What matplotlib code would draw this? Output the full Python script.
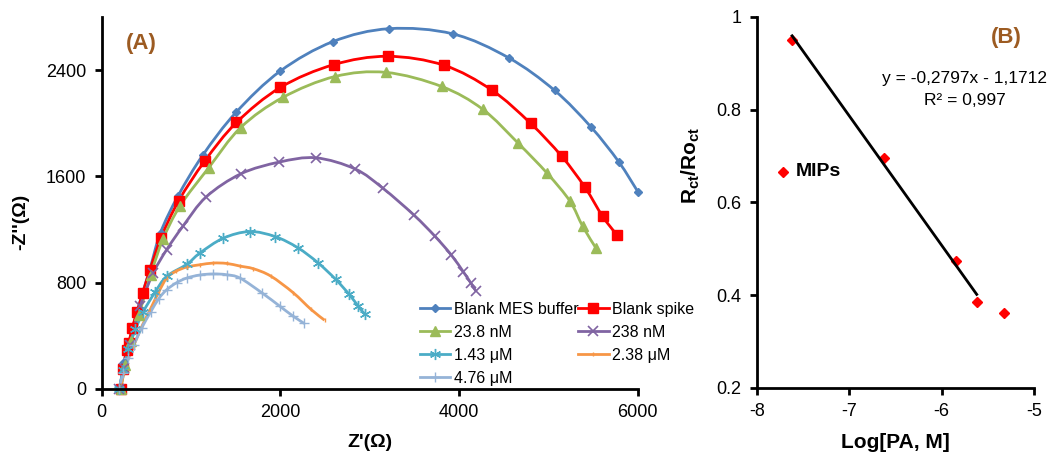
import numpy as np
import matplotlib
matplotlib.use("Agg")
import matplotlib.pyplot as plt
from matplotlib.path import Path
from matplotlib.patches import PathPatch
from matplotlib.lines import Line2D

plt.rcParams["font.family"] = ["Liberation Sans", "DejaVu Sans"]
plt.rcParams["mathtext.fontset"] = "custom"
plt.rcParams["mathtext.rm"] = "Liberation Sans"
plt.rcParams["mathtext.bf"] = "Liberation Sans:bold"
plt.rcParams["axes.unicode_minus"] = False

# ---- panel A: Nyquist plots (Z' vs -Z'') ----
blank_x = [205, 250, 300, 400, 540, 660, 855, 1135, 1505, 2000, 2590, 3220, 3930, 4555, 5070, 5475, 5785, 6000]
blank_y = [0, 200, 330, 590, 900, 1177, 1452, 1762, 2082, 2393, 2615, 2712, 2673, 2493, 2247, 1973, 1712, 1486]

spike_x = [215, 245, 280, 305, 343, 399, 460, 543, 667, 863, 1155, 1510, 2002, 2597, 3200, 3830, 4364, 4800, 5147, 5408, 5606, 5763]
spike_y = [0, 150, 294, 345, 458, 583, 720, 898, 1140, 1416, 1716, 2006, 2270, 2441, 2504, 2437, 2251, 2000, 1753, 1519, 1300, 1162]

c238n_x = [220, 260, 330, 420, 550, 688, 880, 1200, 1557, 2027, 2612, 3182, 3805, 4264, 4663, 4987, 5241, 5383, 5531]
c238n_y = [0, 180, 360, 560, 860, 1127, 1380, 1666, 1968, 2194, 2352, 2383, 2277, 2106, 1849, 1623, 1414, 1225, 1062]

c2380n_x = [200, 250, 320, 430, 579, 729, 914, 1171, 1560, 1990, 2397, 2838, 3150, 3494, 3730, 3912, 4050, 4130, 4190]
c2380n_y = [0, 160, 330, 621, 873, 1049, 1228, 1446, 1620, 1708, 1740, 1656, 1510, 1310, 1150, 1010, 880, 800, 736]

c143u_x = [200, 240, 300, 380, 468, 600, 729, 953, 1102, 1362, 1657, 1943, 2194, 2420, 2620, 2771, 2871, 2947]
c143u_y = [0, 140, 300, 450, 583, 730, 848, 938, 1024, 1135, 1185, 1147, 1064, 951, 825, 712, 624, 561]

c238u_x = [210, 250, 300, 356, 450, 543, 640, 729, 830, 953, 1100, 1251, 1400, 1550, 1700, 1893, 2144, 2344, 2495]
c238u_y = [0, 120, 230, 319, 470, 596, 730, 835, 885, 918, 935, 948, 945, 925, 905, 850, 725, 599, 518]

c476u_x = [200, 240, 300, 360, 450, 550, 640, 729, 840, 953, 1100, 1251, 1400, 1549, 1792, 1993, 2144, 2269]
c476u_y = [0, 120, 230, 330, 460, 580, 680, 747, 800, 835, 858, 866, 860, 835, 725, 624, 548, 493]

# ---- panel B: calibration ----
log_pa = [-7.62, -6.62, -5.84, -5.62, -5.32]
rct_ratio = [0.951, 0.695, 0.474, 0.385, 0.362]
n_fit = 4  # trendline uses the first four points

BROWN = "#9C5B22"


def smooth_path(xs, ys):
    """Excel-style smoothed line: cubic Bezier segments through the points."""
    p = np.column_stack([xs, ys]).astype(float)
    verts, codes = [p[0]], [Path.MOVETO]
    for i in range(len(p) - 1):
        p0 = p[i - 1] if i > 0 else p[i]
        p3 = p[i + 2] if i + 2 < len(p) else p[i + 1]
        c1 = p[i] + (p[i + 1] - p0) / 6
        c2 = p[i + 1] - (p3 - p[i]) / 6
        verts += [c1, c2, p[i + 1]]
        codes += [Path.CURVE4] * 3
    return Path(verts, codes)


fig = plt.figure(figsize=(10.61, 4.53), dpi=100)
axA = fig.add_axes([0.0957, 0.1413, 0.5054, 0.8212])
axB = fig.add_axes([0.7135, 0.1435, 0.2610, 0.8190])

series = [
    (blank_x, blank_y, "Blank MES buffer", "#4F81BD", dict(marker="D", ms=4.5)),
    (spike_x, spike_y, "Blank spike", "#FF0000", dict(marker="s", ms=6.5)),
    (c238n_x, c238n_y, "23.8 nM", "#9BBB59", dict(marker="^", ms=6.5)),
    (c2380n_x, c2380n_y, "238 nM", "#8064A2", dict(marker="x", ms=7, mew=1.2)),
    (c143u_x, c143u_y, "1.43 μM", "#4BACC6", dict(marker=(6, 2, 0), ms=8, mew=1.0)),
    (c238u_x, c238u_y, "2.38 μM", "#F79646", dict(marker="|", ms=3, mew=1.0)),
    (c476u_x, c476u_y, "4.76 μM", "#95B3D7", dict(marker="+", ms=7, mew=1.0)),
]
handles = {}
for xs, ys, name, col, mk in series:
    axA.add_patch(PathPatch(smooth_path(xs, ys), fill=False, edgecolor=col,
                            lw=2, clip_on=False))
    axA.plot(xs, ys, linestyle="none", color=col, mfc=col, mec=col,
             clip_on=False, **mk)
    handles[name] = Line2D([], [], color=col, lw=2, mfc=col, mec=col, **mk)

axA.set_xlim(0, 6000)
axA.set_ylim(0, 2800)
axA.set_xticks([0, 2000, 4000, 6000])
axA.set_yticks([0, 800, 1600, 2400])
axA.set_xlabel("Z'(Ω)", fontsize=14, fontweight="bold")
axA.set_ylabel("-Z''(Ω)", fontsize=14, fontweight="bold")
axA.xaxis.set_label_coords(0.5, -0.12)
axA.yaxis.set_label_coords(-0.135, 0.45)
axA.text(0.045, 0.93, "(A)", transform=axA.transAxes, fontsize=16,
         fontweight="bold", color=BROWN, va="center")

order = ["Blank MES buffer", "23.8 nM", "1.43 μM", "4.76 μM",
         "Blank spike", "238 nM", "2.38 μM"]
fig.legend([handles[k] for k in order], order, ncol=2, frameon=False,
           loc="upper left", bbox_to_anchor=(420 / 1061, 1 - 302 / 453),
           fontsize=11.5, handlelength=1.9, handletextpad=0.2,
           columnspacing=0.0, labelspacing=0.5, borderpad=0,
           borderaxespad=0)

# panel B
axB.plot(log_pa, rct_ratio, linestyle="none", marker="D", ms=5.5,
         color="#FF0000", clip_on=False)
slope, inter = np.polyfit(log_pa[:n_fit], rct_ratio[:n_fit], 1)
xfit = np.array([log_pa[0], log_pa[n_fit - 1]])
axB.plot(xfit, slope * xfit + inter, color="black", lw=2)
axB.set_xlim(-8, -5)
axB.set_ylim(0.2, 1.0)
axB.set_xticks([-8, -7, -6, -5])
axB.set_yticks([0.2, 0.4, 0.6, 0.8, 1.0])
axB.set_yticklabels(["0.2", "0.4", "0.6", "0.8", "1"])
axB.set_xlabel("Log[PA, M]", fontsize=15, fontweight="bold")
axB.set_ylabel(r"R$_{\mathbf{ct}}$/Ro$_{\mathbf{ct}}$", fontsize=15,
               fontweight="bold")
axB.xaxis.set_label_coords(0.5, -0.12)
axB.yaxis.set_label_coords(-0.2, 0.6)
axB.text(0.9, 0.945, "(B)", transform=axB.transAxes, fontsize=16,
         fontweight="bold", color=BROWN, ha="center", va="center")
axB.text(0.75, 0.835, "y = -0,2797x - 1,1712", transform=axB.transAxes,
         fontsize=12.5, ha="center", va="center")
axB.text(0.75, 0.775, "R² = 0,997", transform=axB.transAxes,
         fontsize=12.5, ha="center", va="center")
axB.plot([0.095], [0.583], transform=axB.transAxes, marker="D", ms=5.5,
         color="#FF0000", clip_on=False)
axB.text(0.14, 0.583, "MIPs", transform=axB.transAxes, fontsize=14,
         fontweight="bold", va="center")

for ax in (axA, axB):
    for s in ("top", "right"):
        ax.spines[s].set_visible(False)
    for s in ("left", "bottom"):
        ax.spines[s].set_linewidth(2)
    ax.tick_params(direction="out", length=5, width=2, labelsize=13,
                   pad=6)

fig.savefig("out.png", dpi=100)
